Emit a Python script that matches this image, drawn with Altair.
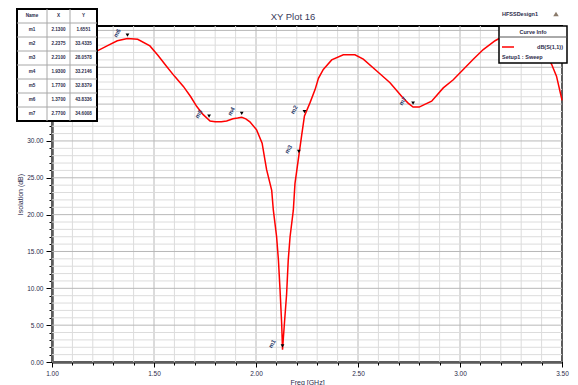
import altair as alt
import pandas as pd

# ---- data ----
freq = [1.00, 1.05, 1.10, 1.15, 1.22, 1.27, 1.32, 1.37, 1.42, 1.48, 1.52, 1.562, 1.60,
        1.644, 1.68, 1.709, 1.74, 1.775, 1.80, 1.83, 1.856, 1.887, 1.91, 1.93, 1.95,
        1.97, 2.003, 2.03, 2.044, 2.052, 2.077, 2.085, 2.101, 2.11, 2.118, 2.126, 2.13,
        2.14, 2.15, 2.158, 2.167, 2.183, 2.191, 2.21, 2.224, 2.2375, 2.265, 2.29, 2.306,
        2.33, 2.371, 2.428, 2.485, 2.526, 2.592, 2.657, 2.722, 2.747, 2.77, 2.80, 2.83,
        2.861, 2.918, 2.967, 3.016, 3.065, 3.114, 3.172, 3.23, 3.30, 3.36, 3.41, 3.449,
        3.473, 3.498, 3.50]
db = [39.5, 40.3, 41.0, 41.6, 42.2, 42.9, 43.6, 43.9, 43.8, 42.9, 41.6, 40.1, 38.8,
      37.4, 36.0, 34.7, 33.6, 32.7, 32.6, 32.6, 32.7, 33.0, 33.1, 33.2, 33.0,
      32.6, 31.5, 29.7, 27.4, 26.1, 23.3, 20.6, 17.0, 13.8, 9.7, 5.1, 1.66,
      5.5, 9.2, 13.8, 17.0, 20.6, 24.2, 28.0, 30.8, 33.4, 35.2, 37.0, 38.5,
      39.7, 41.0, 41.7, 41.7, 41.1, 39.5, 37.9, 35.8, 35.1, 34.6, 34.6, 35.0,
      35.4, 37.2, 38.3, 39.7, 41.1, 42.4, 43.6, 44.5, 44.9, 44.3, 42.6, 40.4,
      38.8, 35.8, 35.5]

marker_names = ["m1", "m2", "m3", "m4", "m5", "m6", "m7"]
marker_x = [2.1300, 2.2375, 2.2100, 1.9300, 1.7700, 1.3700, 2.7700]
marker_y = [1.6551, 33.4335, 28.0578, 33.2146, 32.8379, 43.8336, 34.6008]

table_header = ["Name", "X", "Y"]

x_ticks = [round(1.0 + 0.1 * i, 2) for i in range(26)]
y_ticks = list(range(0, 46))

title_text = "XY Plot 16"
design_text = "HFSSDesign1"
legend_title = "Curve Info"
curve_name = "dB(S(1,1))"
curve_setup = "Setup1 : Sweep"
x_title = "Freq [GHz]"
y_title = "Isolation (dB)"

FONT = "Liberation Sans"
TXT = "#2b2b4a"

# ---- scales / axes ----
xs = alt.Scale(domain=[1.0, 3.5], nice=False, zero=False)
ys = alt.Scale(domain=[0, 45.6], nice=False, zero=False)

xaxis = alt.Axis(
    values=x_ticks, grid=False, title=x_title, titleFont=FONT, titleFontSize=7,
    titleFontWeight="normal", titleColor=TXT, titlePadding=2,
    labelExpr="abs(round(datum.value*10)%5) < 0.5 ? format(datum.value, '.2f') : ''",
    labelFont=FONT, labelFontSize=6.5, labelColor=TXT, labelPadding=3,
    domainColor="black", domainWidth=2, tickColor="black", tickWidth=1,
    tickSize={"condition": {"test": "abs(round(datum.value*10)%5) < 0.5", "value": 5}, "value": 3},
    labelFlush=False, labelOverlap=False,
)
# labels at 35 and above sit under the marker table in the reference
yaxis = alt.Axis(
    values=y_ticks, grid=False, title=y_title, titleFont=FONT, titleFontSize=7,
    titleFontWeight="normal", titleColor=TXT, titlePadding=3,
    labelExpr="(datum.value % 5 == 0 && datum.value < 33) ? format(datum.value, '.2f') : ''",
    labelFont=FONT, labelFontSize=6.5, labelColor=TXT, labelPadding=3,
    domainColor="black", domainWidth=2, tickColor="black", tickWidth=1,
    tickSize={"condition": {"test": "datum.value % 5 == 0", "value": 6}, "value": 3},
    labelOverlap=False,
)

# ---- grid ----
vgrid = pd.DataFrame({"f": x_ticks})
vgrid["major"] = [abs(round(v * 10) % 5) == 0 for v in x_ticks]
hgrid = pd.DataFrame({"v": y_ticks})
hgrid["major"] = [v % 5 == 0 for v in y_ticks]

vg = alt.Chart(vgrid).mark_rule(strokeWidth=1).encode(
    x=alt.X("f:Q", scale=xs, axis=xaxis),
    color=alt.condition("datum.major", alt.value("#b8b8b8"), alt.value("#dcdcdc")),
)
hg = alt.Chart(hgrid).mark_rule(strokeWidth=1).encode(
    y=alt.Y("v:Q", scale=ys, axis=yaxis),
    color=alt.condition("datum.major", alt.value("#b8b8b8"), alt.value("#dcdcdc")),
)

curve = pd.DataFrame({"f": freq, "v": db})
line = alt.Chart(curve).mark_line(color="#ff0000", strokeWidth=1.5).encode(
    x=alt.X("f:Q", scale=xs, axis=xaxis),
    y=alt.Y("v:Q", scale=ys, axis=yaxis),
)

mk = pd.DataFrame({"name": marker_names, "f": marker_x, "v": marker_y})
mk_pts = alt.Chart(mk).mark_point(shape="triangle-down", filled=True, color="black",
                                  size=14, yOffset=-4, opacity=1).encode(
    x=alt.X("f:Q", scale=xs, axis=xaxis),
    y=alt.Y("v:Q", scale=ys, axis=yaxis),
)
mk_txt = alt.Chart(mk).mark_text(dy=-12, angle=300, fontSize=6, font=FONT,
                                 color="#2a3a6a", fontWeight="bold").encode(
    x=alt.X("f:Q", scale=xs, axis=xaxis),
    y=alt.Y("v:Q", scale=ys, axis=yaxis),
    text="name:N",
)

# ---- marker table (top-left), pixel layout relative to plot origin ----
col_edges = [-35, -5, 18, 45]
row_top = -17
row_h = 14
n_rows = len(marker_names) + 1
cells = []
for j, h in enumerate(table_header):
    cells.append({"cx": (col_edges[j] + col_edges[j + 1]) / 2, "cy": row_top + row_h / 2,
                  "t": h, "hdr": True})
for i in range(len(marker_names)):
    vals = [marker_names[i], f"{marker_x[i]:.4f}", f"{marker_y[i]:.4f}"]
    for j, t in enumerate(vals):
        cells.append({"cx": (col_edges[j] + col_edges[j + 1]) / 2,
                      "cy": row_top + row_h * (i + 1) + row_h / 2, "t": t, "hdr": False})
cells = pd.DataFrame(cells)

tlines = []
for i in range(1, n_rows):
    yv = row_top + row_h * i
    tlines.append({"x1": col_edges[0], "x2": col_edges[-1], "y1": yv, "y2": yv})
for c in col_edges[1:-1]:
    tlines.append({"x1": c, "x2": c, "y1": row_top, "y2": row_top + row_h * n_rows})
tlines = pd.DataFrame(tlines)

t_box = alt.Chart(pd.DataFrame({"a": [0]})).mark_rect(
    fill="white", stroke="black", strokeWidth=2).encode(
    x=alt.value(col_edges[0]), x2=alt.value(col_edges[-1]),
    y=alt.value(row_top), y2=alt.value(row_top + row_h * n_rows),
)
t_lines = alt.Chart(tlines).mark_rule(color="#a8a8a8", strokeWidth=1).encode(
    x=alt.X("x1:Q", scale=None, axis=None), x2="x2:Q",
    y=alt.Y("y1:Q", scale=None, axis=None), y2="y2:Q",
)
t_text = alt.Chart(cells).mark_text(fontSize=4.6, font=FONT, color=TXT, fontWeight="bold").encode(
    x=alt.X("cx:Q", scale=None, axis=None),
    y=alt.Y("cy:Q", scale=None, axis=None),
    text="t:N",
)

# ---- legend box (top-right) ----
lg_box = alt.Chart(pd.DataFrame({"a": [0]})).mark_rect(
    fill="white", stroke="black", strokeWidth=1.5).encode(
    x=alt.value(447), x2=alt.value(515), y=alt.value(0), y2=alt.value(37),
)
lg_sep = alt.Chart(pd.DataFrame({"a": [0]})).mark_rule(color="#555555", strokeWidth=1).encode(
    x=alt.value(447), x2=alt.value(515), y=alt.value(11), y2=alt.value(11),
)
lg_line = alt.Chart(pd.DataFrame({"a": [0]})).mark_rule(color="#ff0000", strokeWidth=1.5).encode(
    x=alt.value(450), x2=alt.value(462), y=alt.value(21), y2=alt.value(21),
)
lg_t1 = alt.Chart(pd.DataFrame({"t": [legend_title]})).mark_text(
    fontSize=5.5, font=FONT, color=TXT, fontWeight="bold").encode(
    x=alt.value(481), y=alt.value(6), text="t:N")
lg_t2 = alt.Chart(pd.DataFrame({"t": [curve_name]})).mark_text(
    fontSize=5.5, font=FONT, color=TXT, fontWeight="bold", align="right").encode(
    x=alt.value(511), y=alt.value(21), text="t:N")
lg_t3 = alt.Chart(pd.DataFrame({"t": [curve_setup]})).mark_text(
    fontSize=5.5, font=FONT, color=TXT, fontWeight="bold", align="left").encode(
    x=alt.value(450), y=alt.value(31), text="t:N")

title = alt.Chart(pd.DataFrame({"t": [title_text]})).mark_text(
    fontSize=9.5, font=FONT, color="#3a3a5a").encode(
    x=alt.value(241), y=alt.value(-9), text="t:N")
design = alt.Chart(pd.DataFrame({"t": [design_text]})).mark_text(
    fontSize=5.5, font=FONT, color=TXT, fontWeight="bold").encode(
    x=alt.value(468), y=alt.value(-12), text="t:N")
logo = alt.Chart(pd.DataFrame({"a": [0]})).mark_point(
    shape="triangle-up", filled=True, color="#8a7a6a", size=30, opacity=1).encode(
    x=alt.value(504), y=alt.value(-12))

chart = alt.layer(
    vg, hg, line, mk_pts, mk_txt, t_box, t_lines, t_text,
    lg_box, lg_sep, lg_line, lg_t1, lg_t2, lg_t3, title, design, logo,
).properties(
    width=510, height=336,
    padding={"left": 52, "top": 26, "right": 16, "bottom": 23},
    autosize=alt.AutoSizeParams(type="none"),
    background="white",
).configure_view(stroke="black", strokeWidth=2)

chart.save("out.html", embed_options={"renderer": "svg", "actions": False})
